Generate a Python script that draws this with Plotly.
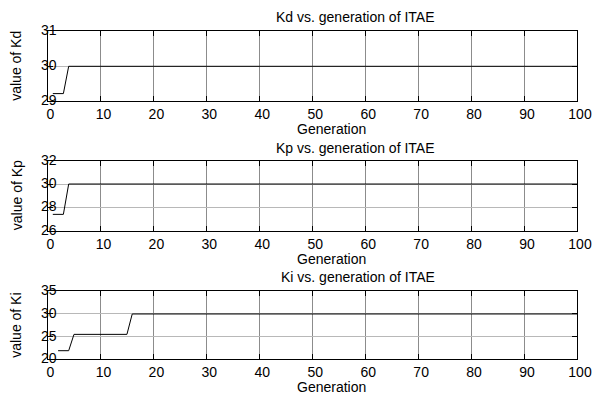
import plotly.graph_objects as go
from plotly.subplots import make_subplots

# ---- data ----
gen_kd = list(range(1, 101))
kd_values = [29.22] * 3 + [30.0] * 97

gen_kp = list(range(1, 101))
kp_values = [27.4] * 3 + [30.0] * 97

gen_ki = list(range(2, 101))
ki_values = [21.9] * 3 + [25.5] * 11 + [30.0] * 85

x_ticks = [0, 10, 20, 30, 40, 50, 60, 70, 80, 90, 100]
kd_ticks = [29, 30, 31]
kp_ticks = [26, 28, 30, 32]
ki_ticks = [20, 25, 30, 35]

titles = ["Kd vs. generation of ITAE", "Kp vs. generation of ITAE", "Ki vs. generation of ITAE"]
ylabels = ["value of Kd", "value of Kp", "value of Ki"]
xlabel = "Generation"

W, H = 595, 396
FONT = "Liberation Sans, Arial, sans-serif"

fig = make_subplots(rows=3, cols=1)

series = [(gen_kd, kd_values, kd_ticks), (gen_kp, kp_values, kp_ticks), (gen_ki, ki_values, ki_ticks)]
ydomains_px = [(31.3, 101.3), (160.7, 230.7), (291.3, 359.3)]
xdom = [47.5 / W, 577 / W]
title_y_px = [17.3, 148.3, 276.7]
xlabel_y_px = [128.7, 259.3, 386.7]

for i, (gx, gy, yt) in enumerate(series):
    r = i + 1
    fig.add_trace(go.Scatter(x=gx, y=gy, mode="lines",
                             line=dict(color="black", width=1),
                             showlegend=False, hoverinfo="skip"), row=r, col=1)
    top, bot = ydomains_px[i]
    ydom = [1 - bot / H, 1 - top / H]
    fig.update_xaxes(domain=xdom, range=[0, 100], tickvals=x_ticks, automargin=False,
                     showgrid=True, gridcolor="#8c8c8c", gridwidth=1,
                     showline=True, linecolor="black", linewidth=1.3, mirror="ticks",
                     ticks="inside", ticklen=5, tickcolor="black", tickwidth=1.3,
                     zeroline=False, ticklabelshift=3,
                     tickfont=dict(family=FONT, size=14, color="black"),
                     row=r, col=1)
    fig.update_yaxes(domain=ydom, range=[yt[0], yt[-1]], tickvals=yt, automargin=False,
                     showgrid=True, gridcolor="#b8b8b8", gridwidth=1,
                     showline=True, linecolor="black", linewidth=1.3, mirror="ticks",
                     ticks="inside", ticklen=5, tickcolor="black", tickwidth=1.3,
                     zeroline=False, ticklabelstandoff=-13, ticklabelshift=-1,
                     tickfont=dict(family=FONT, size=14, color="black"),
                     row=r, col=1)
    fig.add_annotation(text=titles[i], xref="paper", yref="paper",
                       x=437 / W, y=1 - title_y_px[i] / H, xanchor="right", yanchor="middle",
                       showarrow=False, font=dict(family=FONT, size=14, color="black"))
    fig.add_annotation(text=xlabel, xref="paper", yref="paper",
                       x=331 / W, y=1 - xlabel_y_px[i] / H, xanchor="center", yanchor="middle",
                       showarrow=False, font=dict(family=FONT, size=14, color="black"))
    fig.add_annotation(text=ylabels[i], xref="paper", yref="paper", textangle=-90,
                       x=16.5 / W, y=1 - (top + bot) / 2 / H, xanchor="center", yanchor="middle",
                       showarrow=False, font=dict(family=FONT, size=14, color="black"))

fig.update_layout(width=W, height=H, margin=dict(l=0, r=0, t=0, b=0, pad=0),
                  paper_bgcolor="white", plot_bgcolor="white",
                  font=dict(family=FONT, size=14, color="black"))

fig.write_html("out.html")
